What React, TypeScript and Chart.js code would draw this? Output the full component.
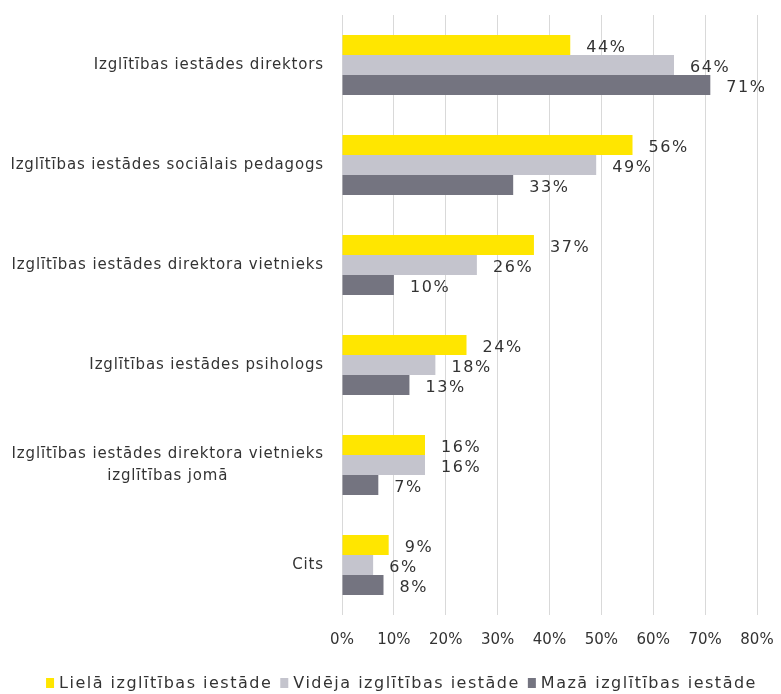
import React, { useEffect, useRef } from "react";
import { Chart, registerables } from "chart.js";

Chart.register(...registerables);

const categories: (string | string[])[] = [
  "Izglītības iestādes direktors",
  "Izglītības iestādes sociālais pedagogs",
  "Izglītības iestādes direktora vietnieks",
  "Izglītības iestādes psihologs",
  ["Izglītības iestādes direktora vietnieks", "izglītības jomā"],
  "Cits",
];
const seriesNames = ["Lielā izglītības iestāde", "Vidēja izglītības iestāde", "Mazā izglītības iestāde"];
const large = [44, 56, 37, 24, 16, 9];
const medium = [64, 49, 26, 18, 16, 6];
const small = [71, 33, 10, 13, 7, 8];
const colors = ["#FFE600", "#C4C4CD", "#747480"];

const FONT = "'DejaVu Sans', sans-serif";
const TEXT = "#333333";

const spacingPlugin = {
  id: "spacing",
  beforeUpdate(chart: any) {
    chart.ctx.letterSpacing = "0px";
  },
  beforeDraw(chart: any) {
    chart.ctx.letterSpacing = "0px";
  },
};

const yLabelsPlugin = {
  id: "yLabels",
  afterDraw(chart: any) {
    const ctx = chart.ctx;
    const ys = chart.scales.y;
    const right = chart.chartArea.left - 18;
    ctx.save();
    ctx.letterSpacing = "0.85px";
    ctx.font = `15px ${FONT}`;
    ctx.fillStyle = TEXT;
    ctx.textBaseline = "middle";
    ctx.textAlign = "center";
    const lh = 22;
    categories.forEach((lab, i) => {
      const lines = Array.isArray(lab) ? lab : [lab];
      const w = Math.max(...lines.map((l) => ctx.measureText(l).width));
      const cy = ys.getPixelForValue(i);
      const y0 = cy - ((lines.length - 1) * lh) / 2;
      lines.forEach((l, j) => ctx.fillText(l, right - w / 2, y0 + j * lh));
    });
    ctx.restore();
  },
};

const valueLabelsPlugin = {
  id: "valueLabels",
  afterDatasetsDraw(chart: any) {
    const ctx = chart.ctx;
    ctx.save();
    ctx.letterSpacing = "1.6px";
    ctx.font = `16px ${FONT}`;
    ctx.fillStyle = TEXT;
    ctx.textBaseline = "middle";
    ctx.textAlign = "left";
    chart.data.datasets.forEach((ds: any, di: number) => {
      const meta = chart.getDatasetMeta(di);
      meta.data.forEach((el: any, i: number) => {
        ctx.fillText(ds.data[i] + "%", el.x + 16, el.y + 3);
      });
    });
    ctx.restore();
  },
};

const legendPlugin = {
  id: "customLegend",
  afterDraw(chart: any) {
    const ctx = chart.ctx;
    ctx.save();
    ctx.letterSpacing = "1.5px";
    ctx.font = `16px ${FONT}`;
    ctx.textBaseline = "middle";
    ctx.textAlign = "left";
    const boxW = 8, boxH = 10, gapText = 5, gapItem = 8;
    const widths = seriesNames.map((n) => ctx.measureText(n).width);
    const total = widths.reduce((a, w) => a + boxW + gapText + w, 0) + gapItem * (seriesNames.length - 1);
    let x = chart.width / 2 + 11 - total / 2;
    const cy = chart.height - 11;
    seriesNames.forEach((n, i) => {
      ctx.fillStyle = colors[i];
      ctx.fillRect(x, cy - boxH / 2, boxW, boxH);
      x += boxW + gapText;
      ctx.fillStyle = TEXT;
      ctx.fillText(n, x, cy + 1);
      x += widths[i] + gapItem;
    });
    ctx.restore();
  },
};

export default function App() {
  const ref = useRef<HTMLCanvasElement>(null);
  useEffect(() => {
    if (!ref.current) return;
    const chart = new Chart(ref.current, {
      type: "bar",
      data: {
        labels: categories as any,
        datasets: [large, medium, small].map((d, i) => ({
          label: seriesNames[i],
          data: d,
          backgroundColor: colors[i],
          borderWidth: 0,
          categoryPercentage: 0.6,
          barPercentage: 1.0,
        })),
      },
      options: {
        animation: false,
        responsive: false,
        indexAxis: "y",
        layout: { autoPadding: false, padding: { left: 342, right: 24, top: 15, bottom: 44 } },
        scales: {
          y: { display: false },
          x: {
            min: 0,
            max: 80,
            afterFit: (s: any) => {
              s.height = 35;
              s.paddingLeft = 0;
              s.paddingRight = 0;
            },
            ticks: {
              stepSize: 10,
              callback: (v: any) => v + "%",
              font: { family: FONT, size: 15 },
              color: TEXT,
              padding: 16,
              maxRotation: 0,
            },
            grid: { color: "#d9d9d9", drawTicks: false },
            border: { display: false },
          },
        },
        plugins: {
          tooltip: { enabled: false },
          legend: { display: false },
        },
      },
      plugins: [spacingPlugin, yLabelsPlugin, valueLabelsPlugin, legendPlugin],
    });
    return () => chart.destroy();
  }, []);
  return (
    <div style={{ position: "fixed", left: 0, top: 0, width: 781, height: 694, background: "#fff" }}>
      <canvas ref={ref} width={781} height={694} style={{ display: "block" }} />
    </div>
  );
}
